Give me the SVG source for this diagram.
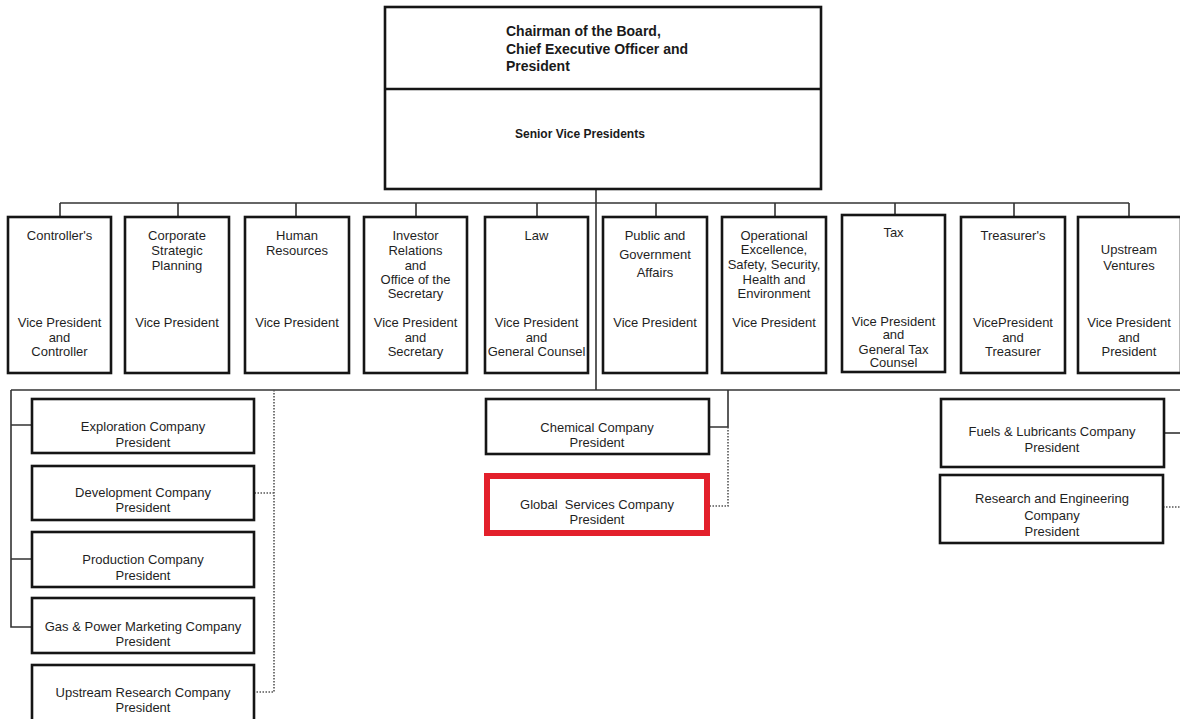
<svg xmlns="http://www.w3.org/2000/svg" width="1180" height="719" viewBox="0 0 1180 719">
  <style>
    .box { fill: #fff; stroke: #151515; stroke-width: 2.6; }
    .hl { fill: #fff; stroke: #e3202b; stroke-width: 6; }
    .ln { fill: none; stroke: #333; stroke-width: 1.6; }
    .dot { fill: none; stroke: #555; stroke-width: 1.6; stroke-dasharray: 1.5 1.5; }
    .t { font-family: "Liberation Sans", Arial, sans-serif; font-size: 13px; fill: #1f1f1f; text-anchor: middle; }
    .hd { font-family: "Liberation Sans", Arial, sans-serif; font-weight: bold; fill: #1a1a1a; }
  </style>
  <rect width="1180" height="719" fill="#fff"/>

  <!-- reporting lines -->
  <g id="connectors">
    <path class="ln" d="M596 189 V390" stroke-width="2.2"/>
    <path class="ln" d="M60 203 H1129"/>
    <path class="ln" d="M60 203 V217 M178 203 V217 M296 203 V217 M416 203 V217 M537 203 V217 M656 203 V217 M775 203 V217 M895 203 V215 M1014 203 V217 M1129 203 V217"/>
    <path class="ln" d="M11 390 H1180"/>
    <path class="ln" d="M11 390 V627 H32 M11 425 H32 M11 559 H32"/>
    <path class="dot" d="M274 390 V692 H254 M274 493 H254"/>
    <path class="ln" d="M728 390 V427 H709"/>
    <path class="dot" d="M728 427 V506 H710"/>
    <path class="ln" d="M1164 433 H1180"/>
    <path class="dot" d="M1163 507 H1180"/>
  </g>

  <g id="chairman">
    <rect class="box" x="385" y="7" width="436" height="182" stroke-width="3"/>
    <path d="M385 89 H821" stroke="#151515" stroke-width="2.4"/>
    <text class="hd" font-size="14" x="506" y="36">Chairman of the Board,</text>
    <text class="hd" font-size="14" x="506" y="53.5">Chief Executive Officer and</text>
    <text class="hd" font-size="14" x="506" y="71">President</text>
    <text class="hd" font-size="12" x="515" y="138">Senior Vice Presidents</text>
  </g>

  <g id="controller">
    <rect class="box" x="8" y="217" width="103" height="156"/>
    <text class="t" x="59.5" y="240">Controller's</text>
    <text class="t" x="59.5" y="327">Vice President</text>
    <text class="t" x="59.5" y="342">and</text>
    <text class="t" x="59.5" y="356">Controller</text>
  </g>

  <g id="corporate-planning">
    <rect class="box" x="125" y="217" width="104" height="156"/>
    <text class="t" x="177" y="240">Corporate</text>
    <text class="t" x="177" y="255">Strategic</text>
    <text class="t" x="177" y="270">Planning</text>
    <text class="t" x="177" y="327">Vice President</text>
  </g>

  <g id="human-resources">
    <rect class="box" x="245" y="217" width="104" height="156"/>
    <text class="t" x="297" y="240">Human</text>
    <text class="t" x="297" y="255">Resources</text>
    <text class="t" x="297" y="327">Vice President</text>
  </g>

  <g id="investor-relations">
    <rect class="box" x="364" y="217" width="103" height="156"/>
    <text class="t" x="415.5" y="240">Investor</text>
    <text class="t" x="415.5" y="255">Relations</text>
    <text class="t" x="415.5" y="270">and</text>
    <text class="t" x="415.5" y="284">Office of the</text>
    <text class="t" x="415.5" y="298">Secretary</text>
    <text class="t" x="415.5" y="327">Vice President</text>
    <text class="t" x="415.5" y="342">and</text>
    <text class="t" x="415.5" y="356">Secretary</text>
  </g>

  <g id="law">
    <rect class="box" x="485" y="217" width="103" height="156"/>
    <text class="t" x="536.5" y="240">Law</text>
    <text class="t" x="536.5" y="327">Vice President</text>
    <text class="t" x="536.5" y="342">and</text>
    <text class="t" x="536.5" y="356">General Counsel</text>
  </g>

  <g id="public-affairs">
    <rect class="box" x="603" y="217" width="104" height="156"/>
    <text class="t" x="655" y="240">Public and</text>
    <text class="t" x="655" y="259">Government</text>
    <text class="t" x="655" y="277">Affairs</text>
    <text class="t" x="655" y="327">Vice President</text>
  </g>

  <g id="operational-excellence">
    <rect class="box" x="722" y="217" width="104" height="156"/>
    <text class="t" x="774" y="240">Operational</text>
    <text class="t" x="774" y="254">Excellence,</text>
    <text class="t" x="774" y="269">Safety, Security,</text>
    <text class="t" x="774" y="284">Health and</text>
    <text class="t" x="774" y="298">Environment</text>
    <text class="t" x="774" y="327">Vice President</text>
  </g>

  <g id="tax">
    <rect class="box" x="842" y="215" width="103" height="157"/>
    <text class="t" x="893.5" y="237">Tax</text>
    <text class="t" x="893.5" y="326">Vice President</text>
    <text class="t" x="893.5" y="339">and</text>
    <text class="t" x="893.5" y="354">General Tax</text>
    <text class="t" x="893.5" y="367">Counsel</text>
  </g>

  <g id="treasurer">
    <rect class="box" x="961" y="217" width="104" height="156"/>
    <text class="t" x="1013" y="240">Treasurer's</text>
    <text class="t" x="1013" y="327">VicePresident</text>
    <text class="t" x="1013" y="342">and</text>
    <text class="t" x="1013" y="356">Treasurer</text>
  </g>

  <g id="upstream-ventures">
    <rect class="box" x="1078" y="217" width="103" height="156"/>
    <text class="t" x="1129" y="254">Upstream</text>
    <text class="t" x="1129" y="270">Ventures</text>
    <text class="t" x="1129" y="327">Vice President</text>
    <text class="t" x="1129" y="342">and</text>
    <text class="t" x="1129" y="356">President</text>
  </g>

  <g id="exploration">
    <rect class="box" x="32" y="399" width="222" height="54"/>
    <text class="t" x="143" y="431">Exploration Company</text>
    <text class="t" x="143" y="447">President</text>
  </g>

  <g id="development">
    <rect class="box" x="32" y="466" width="222" height="54"/>
    <text class="t" x="143" y="497">Development Company</text>
    <text class="t" x="143" y="512">President</text>
  </g>

  <g id="production">
    <rect class="box" x="32" y="532" width="222" height="55"/>
    <text class="t" x="143" y="564">Production Company</text>
    <text class="t" x="143" y="580">President</text>
  </g>

  <g id="gas-power">
    <rect class="box" x="32" y="598" width="222" height="55"/>
    <text class="t" x="143" y="631">Gas &amp; Power Marketing Company</text>
    <text class="t" x="143" y="646">President</text>
  </g>

  <g id="upstream-research">
    <rect class="box" x="32" y="665" width="222" height="60"/>
    <text class="t" x="143" y="697">Upstream Research Company</text>
    <text class="t" x="143" y="712">President</text>
  </g>

  <g id="chemical">
    <rect class="box" x="486" y="399" width="223" height="55"/>
    <text class="t" x="597" y="432">Chemical Company</text>
    <text class="t" x="597" y="447">President</text>
  </g>

  <g id="global-services">
    <rect class="hl" x="487" y="476" width="220" height="57"/>
    <text class="t" x="597" y="509" style="white-space: pre">Global  Services Company</text>
    <text class="t" x="597" y="524">President</text>
  </g>

  <g id="fuels-lubricants">
    <rect class="box" x="941" y="399" width="223" height="68"/>
    <text class="t" x="1052" y="436">Fuels &amp; Lubricants Company</text>
    <text class="t" x="1052" y="452">President</text>
  </g>

  <g id="research-engineering">
    <rect class="box" x="940" y="475" width="223" height="68"/>
    <text class="t" x="1052" y="503">Research and Engineering</text>
    <text class="t" x="1052" y="520">Company</text>
    <text class="t" x="1052" y="536">President</text>
  </g>
</svg>
